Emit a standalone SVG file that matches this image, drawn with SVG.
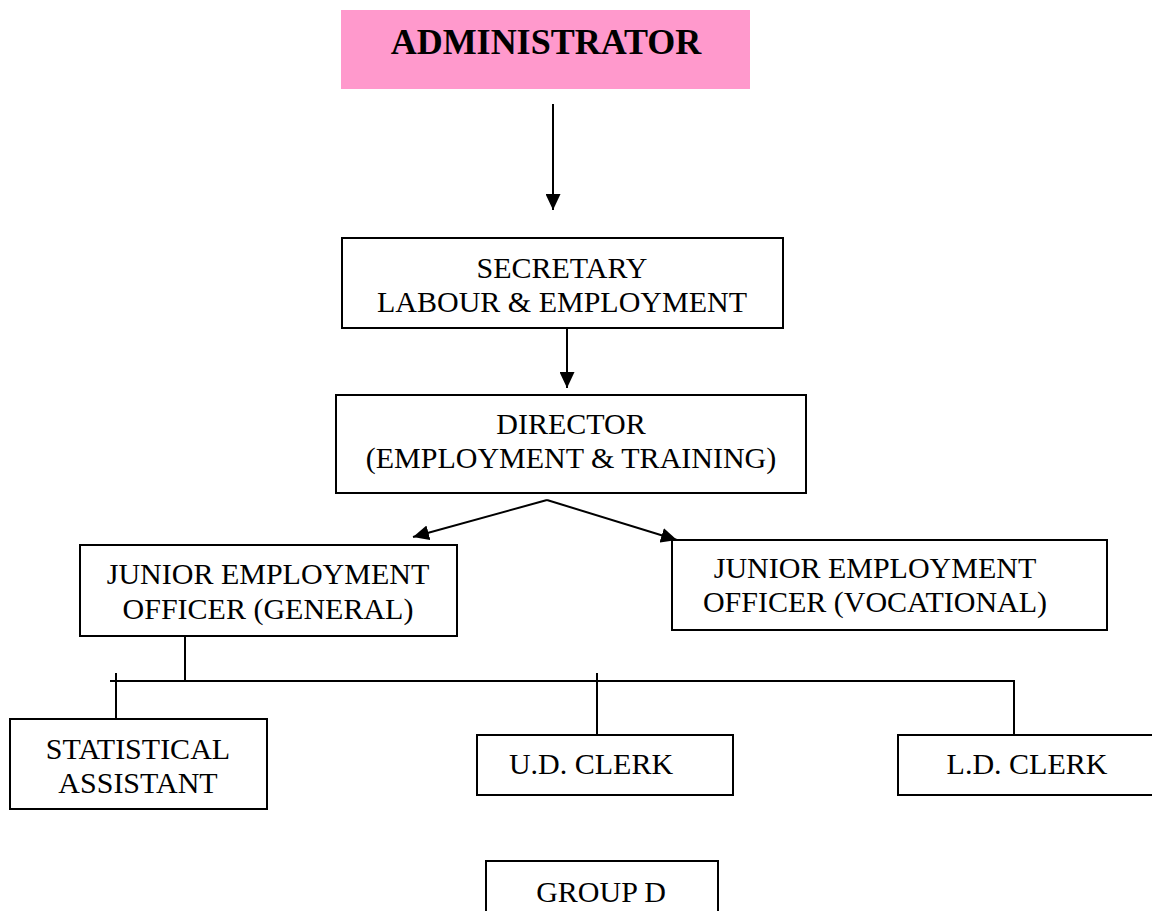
<svg xmlns="http://www.w3.org/2000/svg" width="1152" height="911" viewBox="0 0 1152 911">
<style>
.box{fill:#fff;stroke:#000;stroke-width:2}
.t{font-family:"Liberation Serif","Times New Roman",serif;font-size:30px;fill:#000;text-anchor:middle}
.b{font-weight:bold;font-size:36px}
.c{fill:none;stroke:#000;stroke-width:2}
</style>
<defs>
<marker id="ah" markerUnits="userSpaceOnUse" markerWidth="16" markerHeight="15" refX="16" refY="7.5" orient="auto">
<path d="M0,0 L16,7.5 L0,15 z" fill="#000"/>
</marker>
</defs>
<rect width="1152" height="911" fill="#fff"/>
<g id="connectors">
<line class="c" x1="553" y1="104" x2="553" y2="210" marker-end="url(#ah)"/>
<line class="c" x1="567" y1="328" x2="567" y2="388" marker-end="url(#ah)"/>
<line class="c" x1="547" y1="500" x2="413" y2="537" marker-end="url(#ah)"/>
<line class="c" x1="547" y1="500" x2="677" y2="540" marker-end="url(#ah)"/>
<polyline class="c" points="185,636 185,681"/>
<polyline class="c" points="110,681 1014,681 1014,742"/>
<line class="c" x1="116" y1="673" x2="116" y2="719"/>
<line class="c" x1="597" y1="673" x2="597" y2="735"/>
</g>
<g id="administrator">
<rect x="341" y="10" width="409" height="79" fill="#ff99cc"/>
<text class="t b" x="546" y="54">ADMINISTRATOR</text>
</g>
<g id="secretary">
<rect class="box" x="342" y="238" width="441" height="90"/>
<text class="t" x="562" y="278">SECRETARY</text>
<text class="t" x="562" y="312">LABOUR &amp; EMPLOYMENT</text>
</g>
<g id="director">
<rect class="box" x="336" y="395" width="470" height="98"/>
<text class="t" x="571" y="434">DIRECTOR</text>
<text class="t" x="571" y="468">(EMPLOYMENT &amp; TRAINING)</text>
</g>
<g id="jeo-general">
<rect class="box" x="80" y="545" width="377" height="91"/>
<text class="t" x="268" y="584">JUNIOR EMPLOYMENT</text>
<text class="t" x="268" y="619">OFFICER (GENERAL)</text>
</g>
<g id="jeo-vocational">
<rect class="box" x="672" y="540" width="435" height="90"/>
<text class="t" x="875" y="578">JUNIOR EMPLOYMENT</text>
<text class="t" x="875" y="612">OFFICER (VOCATIONAL)</text>
</g>
<g id="statistical-assistant">
<rect class="box" x="10" y="719" width="257" height="90"/>
<text class="t" x="138" y="759">STATISTICAL</text>
<text class="t" x="138" y="793">ASSISTANT</text>
</g>
<g id="ud-clerk">
<rect class="box" x="477" y="735" width="256" height="60"/>
<text class="t" x="591" y="774">U.D. CLERK</text>
</g>
<g id="ld-clerk">
<rect class="box" x="898" y="735" width="256" height="60"/>
<text class="t" x="1027" y="774">L.D. CLERK</text>
</g>
<g id="group-d">
<rect class="box" x="486" y="861" width="232" height="60"/>
<text class="t" x="601" y="902">GROUP D</text>
</g>
</svg>
